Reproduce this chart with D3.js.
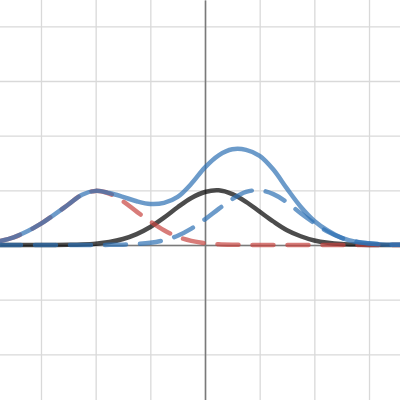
<!DOCTYPE html>
<html>
<head>
<meta charset="utf-8">
<script src="https://cdn.jsdelivr.net/npm/d3@7/dist/d3.min.js"></script>
<style>
  html, body { margin: 0; padding: 0; background: #fff; }
  svg { display: block; }
</style>
</head>
<body>
<svg id="chart" width="400" height="400"></svg>
<script>
// Sample positions along x (units of the graph)
const xs = [-3.75, -3.5, -3.25, -3.0, -2.75, -2.5, -2.25, -2.0, -1.75, -1.5, -1.25, -1.0, -0.75, -0.5, -0.25,
            0, 0.25, 0.5, 0.75, 1.0, 1.25, 1.5, 1.75, 2.0, 2.25, 2.5, 2.75, 3.0, 3.25, 3.5, 3.75];

// Red dashed curve (bump around x = -2)
const redDashed = [0.07, 0.14, 0.25, 0.39, 0.56, 0.74, 0.92, 0.99, 0.94, 0.80, 0.61, 0.43, 0.27, 0.15, 0.076,
                   0.035, 0.014, 0.005, 0.002, 0, 0, 0, 0, 0, 0, 0, 0, 0, 0, 0, 0];

// Black solid curve (bump around x = 0.2)
const blackSolid = [0, 0, 0, 0.001, 0.001, 0.004, 0.01, 0.024, 0.054, 0.11, 0.20, 0.33, 0.50, 0.69, 0.86,
                    0.97, 1.0, 0.93, 0.79, 0.61, 0.43, 0.27, 0.16, 0.083, 0.04, 0.017, 0.007, 0.002, 0, 0, 0];

// Blue dashed curve (bump around x = 0.95)
const blueDashed = [0, 0, 0, 0, 0, 0, 0, 0.001, 0.003, 0.006, 0.017, 0.041, 0.088, 0.17, 0.30,
                    0.47, 0.66, 0.84, 0.97, 1.0, 0.93, 0.78, 0.58, 0.40, 0.24, 0.13, 0.066, 0.029, 0.012, 0.004, 0.001];

// Blue solid curve (total)
const blueSolid = [0.07, 0.14, 0.25, 0.39, 0.56, 0.74, 0.92, 0.99, 0.95, 0.88, 0.80, 0.75, 0.77, 0.88, 1.12,
                   1.42, 1.64, 1.75, 1.74, 1.63, 1.38, 1.03, 0.70, 0.44, 0.26, 0.13, 0.06, 0.03, 0.01, 0.005, 0];

// Grid tick values
const xTicks = [-3, -2, -1, 0, 1, 2, 3];
const yTicks = [-2, -1, 0, 1, 2, 3, 4];

const W = 400, H = 400;
const unit = 54.67;
const x = d3.scaleLinear().domain([-205 / unit, 195 / unit]).range([0, W]);
const y = d3.scaleLinear().domain([245 / unit, -155 / unit]).range([0, H]);

const svg = d3.select("#chart");
svg.append("rect").attr("width", W).attr("height", H).attr("fill", "#fff");

// Grid
const gx = svg.append("g")
  .call(d3.axisBottom(x).tickValues(xTicks).tickSize(H).tickFormat(""));
gx.call(g => g.select(".domain").remove());
gx.selectAll(".tick line").attr("y1", 0).attr("y2", H).attr("stroke", "#d9d9d9").attr("stroke-width", 1.3);

const gy = svg.append("g")
  .call(d3.axisLeft(y).tickValues(yTicks).tickSize(-W).tickFormat(""));
gy.call(g => g.select(".domain").remove());
gy.selectAll(".tick line").attr("x1", 0).attr("x2", W).attr("stroke", "#d9d9d9").attr("stroke-width", 1.3);

// Axes lines (x = 0, y = 0)
svg.append("g").call(d3.axisBottom(x).tickValues([]).tickSizeOuter(0))
  .attr("transform", `translate(0,${y(0)})`)
  .call(g => g.select(".domain").attr("stroke", "#7a7a7a").attr("stroke-width", 1.6));
svg.append("g").call(d3.axisLeft(y).tickValues([]).tickSizeOuter(0))
  .attr("transform", `translate(${x(0)},0)`)
  .call(g => g.select(".domain").attr("stroke", "#7a7a7a").attr("stroke-width", 1.6));

const line = ys => d3.line()
  .x((d, i) => x(xs[i]))
  .y(d => y(d))
  .curve(d3.curveCatmullRom.alpha(0.5))(ys);

const series = [
  { data: blackSolid, color: "#000000", dash: null },
  { data: redDashed, color: "#c74440", dash: "21 14" },
  { data: blueSolid, color: "#2d70b3", dash: null },
  { data: blueDashed, color: "#2d70b3", dash: "21 14" }
];

series.forEach(s => {
  const p = svg.append("path")
    .attr("d", line(s.data))
    .attr("fill", "none")
    .attr("stroke", s.color)
    .attr("stroke-opacity", 0.7)
    .attr("stroke-width", 4.5)
    .attr("stroke-linejoin", "round")
    .attr("stroke-linecap", "round");
  if (s.dash) p.attr("stroke-dasharray", s.dash);
});
</script>
</body>
</html>
